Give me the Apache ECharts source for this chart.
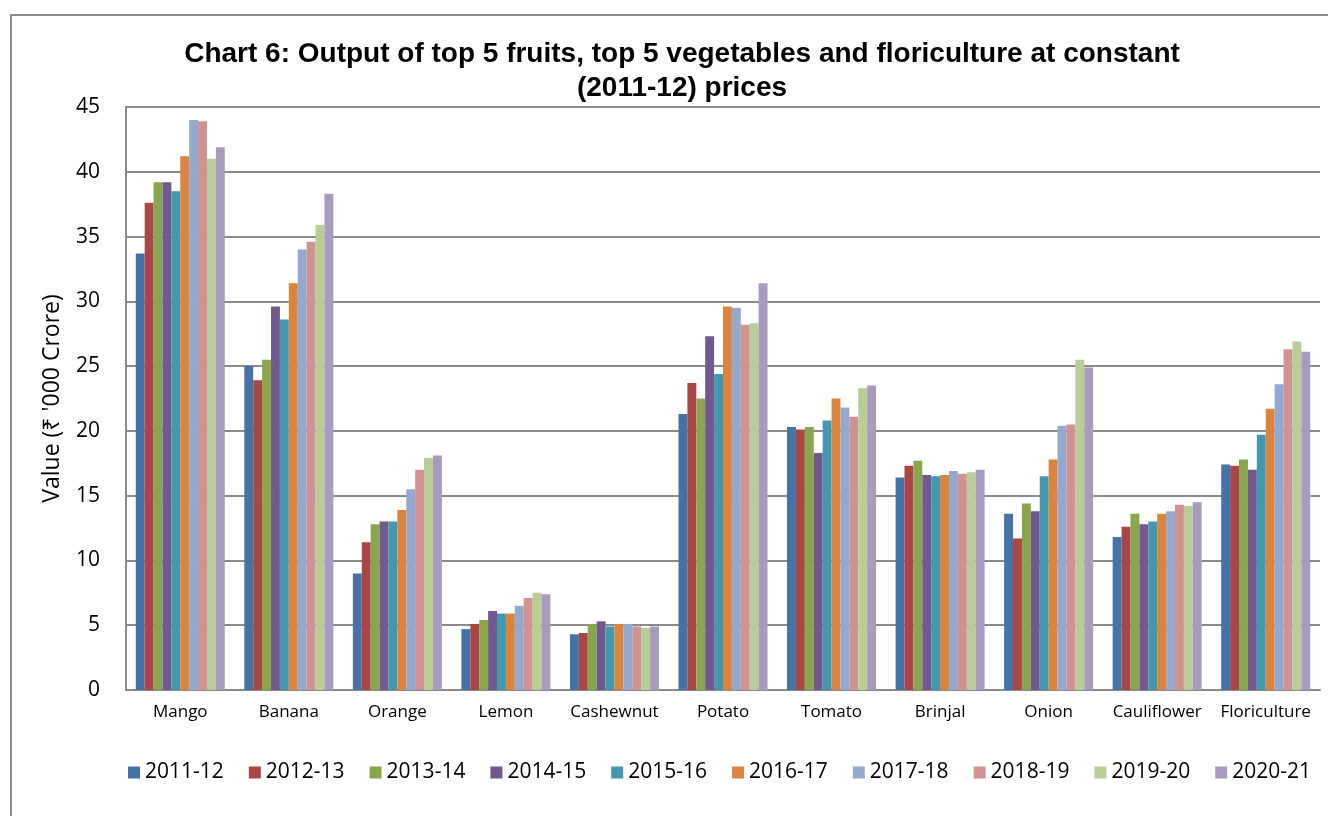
<!DOCTYPE html>
<html>
<head>
<meta charset="utf-8">
<title>Chart 6</title>
<script src="https://cdn.jsdelivr.net/npm/echarts@6/dist/echarts.min.js"></script>
<style>
  html, body { margin: 0; padding: 0; background: #fff; }
  #main { width: 1328px; height: 816px; }
</style>
</head>
<body>
<div id="main"></div>
<script>
// categories on the x axis
var crops = ['Mango', 'Banana', 'Orange', 'Lemon', 'Cashewnut', 'Potato', 'Tomato', 'Brinjal', 'Onion', 'Cauliflower', 'Floriculture'];
var years = ['2011-12', '2012-13', '2013-14', '2014-15', '2015-16', '2016-17', '2017-18', '2018-19', '2019-20', '2020-21'];

// one array per year, values in '000 crore, same order as crops
var y2011 = [33.7, 25.0, 9.0, 4.7, 4.3, 21.3, 20.3, 16.4, 13.6, 11.8, 17.4];
var y2012 = [37.6, 23.9, 11.4, 5.1, 4.4, 23.7, 20.1, 17.3, 11.7, 12.6, 17.3];
var y2013 = [39.2, 25.5, 12.8, 5.4, 5.1, 22.5, 20.3, 17.7, 14.4, 13.6, 17.8];
var y2014 = [39.2, 29.6, 13.0, 6.1, 5.3, 27.3, 18.3, 16.6, 13.8, 12.8, 17.0];
var y2015 = [38.5, 28.6, 13.0, 5.9, 4.9, 24.4, 20.8, 16.5, 16.5, 13.0, 19.7];
var y2016 = [41.2, 31.4, 13.9, 5.9, 5.1, 29.6, 22.5, 16.6, 17.8, 13.6, 21.7];
var y2017 = [44.0, 34.0, 15.5, 6.5, 5.1, 29.5, 21.8, 16.9, 20.4, 13.8, 23.6];
var y2018 = [43.9, 34.6, 17.0, 7.1, 4.9, 28.2, 21.1, 16.7, 20.5, 14.3, 26.3];
var y2019 = [41.0, 35.9, 17.9, 7.5, 4.8, 28.3, 23.3, 16.8, 25.5, 14.2, 26.9];
var y2020 = [41.9, 38.3, 18.1, 7.4, 4.9, 31.4, 23.5, 17.0, 24.9, 14.5, 26.1];

var yearData = [y2011, y2012, y2013, y2014, y2015, y2016, y2017, y2018, y2019, y2020];
var colors = ['#4572A7', '#AA4643', '#89A54E', '#71588F', '#4198AF', '#DB843D', '#93A9CF', '#D19392', '#B9CD96', '#A99BBD'];

var chartDom = document.getElementById('main');
var myChart = echarts.init(chartDom);
var option;

var series = years.map(function (name, i) {
  return {
    name: name,
    type: 'bar',
    data: yearData[i],
    barGap: '0%',
    barCategoryGap: '18%',
    itemStyle: { color: colors[i] }
  };
});

option = {
  animation: false,
  color: colors,
  graphic: [
    {
      type: 'rect',
      shape: { x: 11, y: 15, width: 1340, height: 830 },
      style: { fill: 'none', stroke: '#8a8a8a', lineWidth: 2 },
      z: -1
    }
  ],
  title: {
    text: "Chart 6: Output of top 5 fruits, top 5 vegetables and floriculture at constant\n(2011-12) prices",
    left: 677,
    textAlign: 'center',
    top: 32,
    textStyle: {
      fontFamily: 'Liberation Sans, Arial, sans-serif',
      fontWeight: 'bold',
      fontSize: 28,
      lineHeight: 34,
      color: '#000'
    }
  },
  legend: {
    data: years,
    left: 123,
    top: 757,
    itemWidth: 12,
    itemHeight: 12,
    itemGap: 25,
    icon: 'rect',
    textStyle: {
      fontFamily: 'Open Sans, Noto Sans, sans-serif',
      fontSize: 21,
      color: '#000'
    }
  },
  grid: {
    left: 126,
    right: 8,
    top: 107,
    bottom: 126,
    containLabel: false
  },
  xAxis: {
    type: 'category',
    data: crops,
    axisLine: { lineStyle: { color: '#8a8a8a', width: 2 } },
    axisTick: { show: false },
    axisLabel: {
      margin: 14,
      interval: 0,
      color: '#000',
      fontSize: 17,
      fontFamily: 'Open Sans, Noto Sans, sans-serif'
    }
  },
  yAxis: {
    type: 'value',
    min: 0,
    max: 45,
    interval: 5,
    name: "Value (₹ '000 Crore)",
    nameLocation: 'middle',
    nameGap: 62,
    nameTextStyle: {
      fontFamily: 'Open Sans, Noto Sans, sans-serif',
      fontSize: 23,
      color: '#000'
    },
    axisLine: { show: true, lineStyle: { color: '#8a8a8a', width: 2 } },
    axisTick: { show: false },
    splitLine: { lineStyle: { color: '#8a8a8a', width: 2 } },
    axisLabel: {
      margin: 26,
      color: '#000',
      fontSize: 21,
      fontFamily: 'Open Sans, Noto Sans, sans-serif'
    }
  },
  series: series
};

option && myChart.setOption(option);
</script>
</body>
</html>
